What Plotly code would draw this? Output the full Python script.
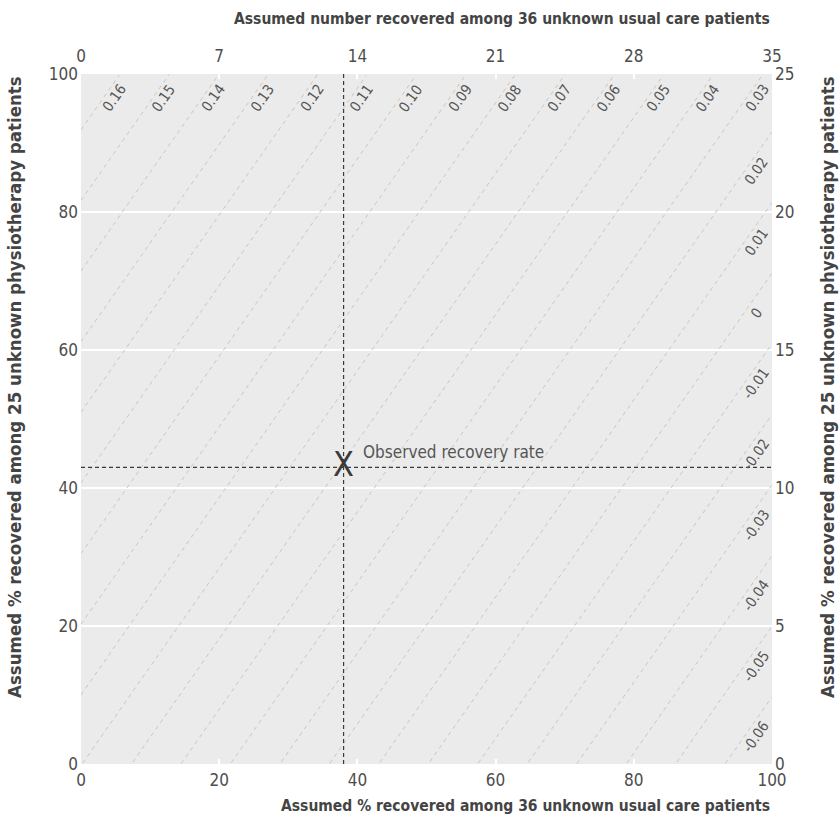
import plotly.graph_objects as go
import numpy as np

# ---- data ----
x_ticks_pct = [0, 20, 40, 60, 80, 100]
x_ticks_top = [0, 7, 14, 21, 28, 35]
y_ticks_pct = [0, 20, 40, 60, 80, 100]
y_ticks_right = [0, 5, 10, 15, 20, 25]

contour_values = [0.16, 0.15, 0.14, 0.13, 0.12, 0.11, 0.10, 0.09, 0.08, 0.07, 0.06,
                  0.05, 0.04, 0.03, 0.02, 0.01, 0.0, -0.01, -0.02, -0.03, -0.04, -0.05, -0.06]
contour_labels = ["0.16", "0.15", "0.14", "0.13", "0.12", "0.11", "0.10", "0.09", "0.08",
                  "0.07", "0.06", "0.05", "0.04", "0.03", "0.02", "0.01", "0", "-0.01",
                  "-0.02", "-0.03", "-0.04", "-0.05", "-0.06"]

# difference in overall recovery = base + coef_phys*y - coef_usual*x  (x, y in %)
coef_usual = 0.001397
coef_phys = 0.000977
base = 0.0702

observed_usual_pct = 38
observed_phys_pct = 43

FONT = "DejaVu Sans Condensed, Liberation Sans Narrow, sans-serif"
TXT = "#4d4d4d"

fig = go.Figure()

# contour (iso-difference) lines
xs = np.linspace(0, 100, 401)
lx, ly = [], []
for d in contour_values:
    y = (d - base + coef_usual * xs) / coef_phys
    m = (y >= 0) & (y <= 100)
    if m.sum() < 2:
        continue
    lx += list(xs[m]) + [None]
    ly += list(y[m]) + [None]
fig.add_trace(go.Scatter(x=lx, y=ly, mode="lines", hoverinfo="skip",
                         line=dict(color="#c6c6c6", width=1, dash="4px,4px"),
                         showlegend=False))

# labels on contour lines
for d, lab in zip(contour_values, contour_labels):
    x_top = (base + coef_phys * 100 - d) / coef_usual
    if x_top <= 99.5:
        yl = 96.5
        xl = (base + coef_phys * yl - d) / coef_usual
        xs_shift = 11
    else:
        xl = 96
        yl = (d - base + coef_usual * xl) / coef_phys
        xs_shift = 12
    fig.add_annotation(x=xl, y=yl, text=lab, showarrow=False, textangle=-55,
                       xshift=xs_shift, font=dict(family=FONT, size=14.5, color="#555555"))

# observed reference lines
fig.add_trace(go.Scatter(x=[observed_usual_pct, observed_usual_pct], y=[0, 100], mode="lines",
                         line=dict(color="#3a3a3a", width=1.2, dash="4px,3px"),
                         hoverinfo="skip", showlegend=False))
fig.add_trace(go.Scatter(x=[0, 100], y=[observed_phys_pct, observed_phys_pct], mode="lines",
                         line=dict(color="#3a3a3a", width=1.2, dash="4px,3px"),
                         hoverinfo="skip", showlegend=False))
fig.add_trace(go.Scatter(x=[observed_usual_pct], y=[observed_phys_pct], mode="text",
                         text=["X"], textposition="middle center",
                         textfont=dict(family=FONT, size=34, color="#3a3a3a"),
                         hoverinfo="skip", showlegend=False))
fig.add_annotation(x=observed_usual_pct, y=observed_phys_pct, text="Observed recovery rate",
                   showarrow=False, xanchor="left", yanchor="middle", xshift=17, yshift=15,
                   font=dict(family=FONT, size=17, color="#555555"))

# dummy trace to activate secondary axes
fig.add_trace(go.Scatter(x=[0], y=[0], xaxis="x2", yaxis="y2", mode="markers",
                         marker=dict(opacity=0), hoverinfo="skip", showlegend=False))

tickfont = dict(family=FONT, size=17, color=TXT)
fig.update_layout(
    width=840, height=821,
    margin=dict(l=81, r=68, t=74, b=57),
    paper_bgcolor="white", plot_bgcolor="#ebebeb",
    xaxis=dict(range=[0, 100], tickvals=x_ticks_pct, showgrid=False, zeroline=False,
               ticks="inside", ticklen=5, tickwidth=2, tickcolor="white",
               tickfont=tickfont, showline=False, ticklabelstandoff=4),
    xaxis2=dict(range=[0, 35], tickvals=x_ticks_top, overlaying="x", side="top",
                showgrid=False, zeroline=False, ticks="inside", ticklen=5, tickwidth=2,
                tickcolor="white", tickfont=tickfont, anchor="y", ticklabelstandoff=8),
    yaxis=dict(range=[0, 100], tickvals=y_ticks_pct, showgrid=True, gridcolor="white",
               gridwidth=2, zeroline=False, ticks="", tickfont=tickfont, ticklabelstandoff=2),
    yaxis2=dict(range=[0, 25], tickvals=y_ticks_right, overlaying="y", side="right",
                showgrid=False, zeroline=False, ticks="", tickfont=tickfont, anchor="x",
                ticklabelstandoff=2),
)

titlefont = dict(family=FONT, size=15.5, color="#444444")
sidefont = dict(family=FONT, size=18.5, color="#444444")
fig.add_annotation(xref="paper", yref="paper", x=1, y=0, xanchor="right", yanchor="middle",
                   yshift=-42, showarrow=False,
                   text="<b>Assumed % recovered among 36 unknown usual care patients</b>",
                   font=titlefont)
fig.add_annotation(xref="paper", yref="paper", x=1, y=1, xanchor="right", yanchor="middle",
                   yshift=55, showarrow=False,
                   text="<b>Assumed number recovered among 36 unknown usual care patients</b>",
                   font=titlefont)
fig.add_annotation(xref="paper", yref="paper", x=0, y=1, xanchor="center", yanchor="top",
                   xshift=-67, textangle=-90, showarrow=False,
                   text="<b>Assumed % recovered among 25 unknown physiotherapy patients</b>",
                   font=sidefont)
fig.add_annotation(xref="paper", yref="paper", x=1, y=1, xanchor="center", yanchor="top",
                   xshift=55, textangle=-90, showarrow=False,
                   text="<b>Assumed % recovered among 25 unknown physiotherapy patients</b>",
                   font=sidefont)

fig.write_html("out.html")
